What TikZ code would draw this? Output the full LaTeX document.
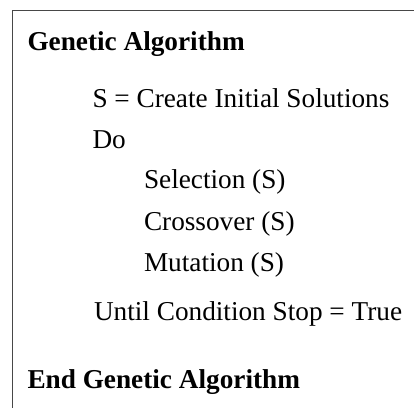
\documentclass[tikz,border=0pt]{standalone}
\usepackage{fontspec}
\setmainfont{Liberation Serif}
\begin{document}
\begin{tikzpicture}[x=1pt,y=-1pt,
  line/.style={anchor=base west,inner sep=0pt,outer sep=0pt,
    font=\fontsize{27.25}{30}\selectfont},
  head/.style={line,font=\fontsize{27.25}{30}\selectfont\bfseries},
  frame/.style={draw=black!72,line width=1.4pt}]
\useasboundingbox (0,0) rectangle (414,408);
% open frame: top and left edges only
\coordinate (tr) at (414,10.7);
\coordinate (tl) at (12.7,10.7);
\coordinate (bl) at (12.7,408);
\draw[frame] (tr) -- (tl) -- (bl);
% pseudo-code lines
\node[head] (begin) at (27.5,50) {Genetic Algorithm};
\node[line] (init)  at (92.5,107) {S = Create Initial Solutions};
\node[line] (do)    at (92.5,148) {Do};
\node[line] (sel)   at (144,188) {Selection (S)};
\node[line] (cross) at (144,230) {Crossover (S)};
\node[line] (mut)   at (144,271) {Mutation (S)};
\node[line] (until) at (94,320) {Until Condition Stop = True};
\node[head] (end)   at (27.5,388) {End Genetic Algorithm};
\end{tikzpicture}
\end{document}
